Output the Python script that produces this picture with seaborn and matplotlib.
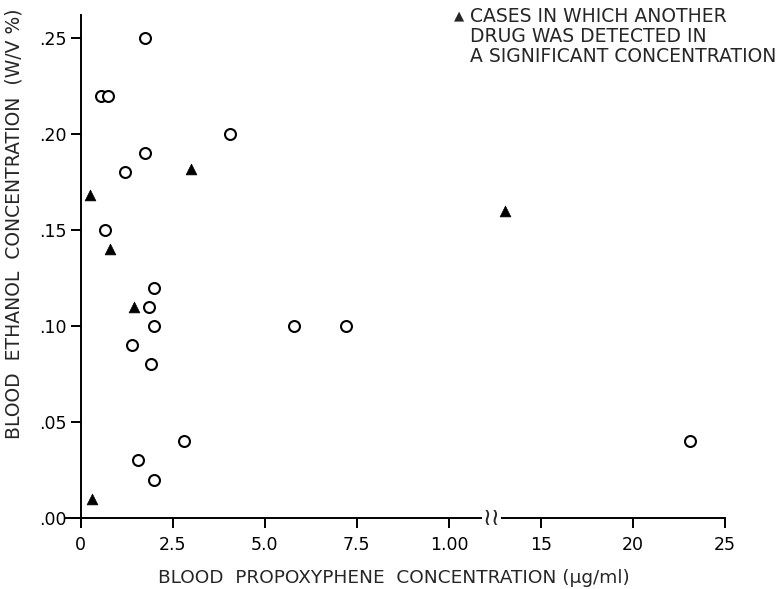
import numpy as np
import pandas as pd
import matplotlib
matplotlib.use("Agg")
import matplotlib.pyplot as plt
import seaborn as sns

# ---- data ----
circle_x = [1.75, 0.55, 0.75, 4.05, 1.75, 1.2, 0.65, 2.0, 1.85, 2.0, 5.8, 7.2, 1.4, 1.9, 2.8, 1.55, 2.0, 23.1]
circle_y = [0.25, 0.22, 0.22, 0.20, 0.19, 0.18, 0.15, 0.12, 0.11, 0.10, 0.10, 0.10, 0.09, 0.08, 0.04, 0.03, 0.02, 0.04]
tri_x = [3.0, 0.25, 0.8, 1.45, 0.3, 13.05]
tri_y = [0.182, 0.168, 0.14, 0.11, 0.01, 0.16]

x_ticks = [0, 2.5, 5.0, 7.5, 10.0, 15, 20, 25]
x_ticklabels = ["0", "2.5", "5.0", "7.5", "1.00", "15", "20", "25"]
y_ticks = [0.0, 0.05, 0.10, 0.15, 0.20, 0.25]
y_ticklabels = [".00", ".05", ".10", ".15", ".20", ".25"]

legend_lines = ["CASES IN WHICH ANOTHER", "DRUG WAS DETECTED IN", "A SIGNIFICANT CONCENTRATION"]

df = pd.DataFrame({
    "x": circle_x + tri_x,
    "y": circle_y + tri_y,
    "group": ["none"] * len(circle_x) + ["other"] * len(tri_x),
})

sns.set_theme(style="white")
plt.rcParams["font.family"] = ["DejaVu Sans"]

W, H = 781, 589
fig = plt.figure(figsize=(W / 100, H / 100), dpi=100)
ax = fig.add_axes([0.0845, 0.1075, 0.8438, 0.867])

sns.scatterplot(data=df[df.group == "none"], x="x", y="y", ax=ax, marker="o",
                s=62, facecolor="white", edgecolor="black", linewidth=1.5, zorder=3)
sns.scatterplot(data=df[df.group == "other"], x="x", y="y", ax=ax, marker="^",
                s=60, color="black", edgecolor="black", linewidth=0.5, zorder=3)

# broken axis: scale compressed by 2 beyond 10
def fwd(v):
    v = np.asarray(v, dtype=float)
    return np.where(v <= 10, v, 10 + (v - 10) / 2.0)

def inv(p):
    p = np.asarray(p, dtype=float)
    return np.where(p <= 10, p, 10 + (p - 10) * 2.0)

ax.set_xscale("function", functions=(fwd, inv))
ax.set_xlim(-0.4, 25)
ax.set_ylim(-0.004, 0.262)

ax.set_xticks(x_ticks)
ax.set_xticklabels(x_ticklabels)
ax.set_yticks(y_ticks)
ax.set_yticklabels(y_ticklabels)
ax.minorticks_off()

for s in ["top", "right"]:
    ax.spines[s].set_visible(False)
ax.spines["left"].set_position(("data", 0))
ax.spines["bottom"].set_position(("data", 0))
for s in ["left", "bottom"]:
    ax.spines[s].set_color("black")
    ax.spines[s].set_linewidth(1.4)

ax.tick_params(axis="both", direction="out", length=7, width=1.4, color="black",
               labelsize=12.5, labelcolor="black", bottom=True, left=True)
ax.tick_params(axis="x", pad=6)
ax.tick_params(axis="y", pad=3)

# break symbol
ax.text(12.3, 0, "\u2240\u2240", ha="center", va="center", fontsize=17,
        bbox=dict(facecolor="white", edgecolor="none", pad=0.5), zorder=5)

ax.set_xlabel("BLOOD  PROPOXYPHENE  CONCENTRATION (\u00b5g/ml)", fontsize=13.3)
ax.set_ylabel("BLOOD  ETHANOL  CONCENTRATION  (W/V %)", fontsize=13.5)
ax.xaxis.set_label_coords(0.498, -0.085)
ax.yaxis.set_label_coords(-0.064, 0.591)

# annotation block (top right), right end of the longest line at x=776 px
renderer = fig.canvas.get_renderer()
fs_leg = 13.5
probe = fig.text(0, 0, legend_lines[2], fontsize=fs_leg)
wpx = probe.get_window_extent(renderer=renderer).width
probe.remove()
x0 = 776 - wpx
ys = [16, 36, 56]
fig.text((x0 - 16) / W, 1 - 16 / H, "\u25b2", fontsize=9.5, ha="left", va="center")
for line, yy in zip(legend_lines, ys):
    fig.text(x0 / W, 1 - yy / H, line, fontsize=fs_leg, ha="left", va="center")

fig.savefig("out.png", dpi=100)
